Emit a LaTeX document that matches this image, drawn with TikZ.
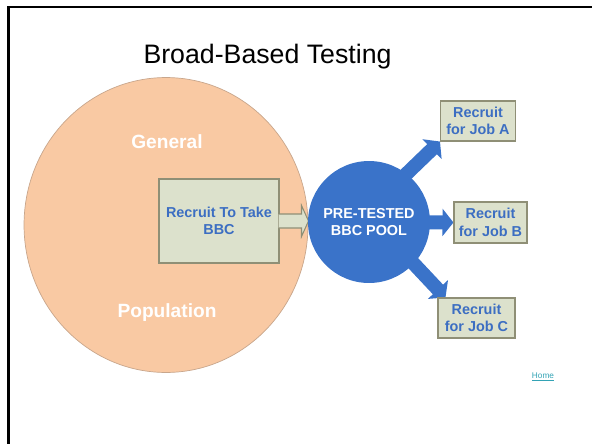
\documentclass[tikz,border=0pt]{standalone}
\usepackage{fontspec}
\setmainfont{Liberation Sans}
\usetikzlibrary{shapes.geometric,arrows.meta,calc,backgrounds}
\definecolor{peach}{HTML}{F9C9A3}
\definecolor{peachline}{HTML}{C8A68C}
\definecolor{boxfill}{HTML}{DCE1CC}
\definecolor{boxline}{HTML}{8F8F76}
\definecolor{poolblue}{HTML}{3A73C9}
\definecolor{textblue}{HTML}{3C6EC2}
\definecolor{homelink}{HTML}{33A3B5}

\begin{document}
\begin{tikzpicture}[x=0.02cm,y=-0.02cm,
  jobbox/.style={draw=boxline,fill=boxfill,line width=0.6pt,minimum width=1.5cm,minimum height=0.8cm,inner sep=0pt,align=center,text=textblue,font=\fontsize{8.2}{9.9}\selectfont\bfseries},
  poolarrow/.style={draw=poolblue,line width=0.28cm,-{Triangle[width=0.54cm,length=0.22cm]}},
  bigword/.style={anchor=base,text=white,font=\fontsize{10.9}{13}\selectfont\bfseries}]
\useasboundingbox (0,0) rectangle (592,444);
\draw[line width=1.36pt] (592,7) -- (8.5,7) -- (8.5,444);
\node[anchor=base,font=\fontsize{15.2}{18}\selectfont] (title) at (267.5,63) {Broad-Based Testing};
\node[ellipse,draw=peachline,fill=peach,line width=0.4pt,minimum width=5.68cm,minimum height=5.9cm] (gen) at (166,225) {};
\node[bigword] (general) at (167,148) {General};
\node[bigword] (popul) at (167,317) {Population};
\node[jobbox,minimum width=2.4cm,minimum height=1.68cm] (recruit) at (219,221) {Recruit To Take\\BBC};
\filldraw[draw=boxline,fill=boxfill,line width=0.6pt] ($(recruit.east)+(-0.8,-7)$) -- ++(22.8,0) -- ++(0,-8.5) -- ++(7,15.5) -- ++(-7,15.5) -- ++(0,-8.5) -- ++(-22.8,0);
\node[circle,fill=poolblue,minimum size=2.44cm,inner sep=0pt,align=center,text=white,font=\fontsize{8.2}{9.7}\selectfont\bfseries] (pool) at (369,222) {PRE-TESTED\\BBC POOL};
\node[jobbox] (jobA) at (478,121) {Recruit\\for Job A};
\node[jobbox,minimum width=1.46cm,minimum height=0.82cm] (jobB) at (490.5,222.5) {Recruit\\for Job B};
\node[jobbox,minimum width=1.54cm] (jobC) at (476.5,318) {Recruit\\for Job C};
\begin{scope}[on background layer]
\draw[poolarrow] ($(pool.center)+(0,-12)$) -- (jobA.south west);
\draw[poolarrow] (pool.center) -- (jobB.west);
\draw[poolarrow] ($(pool.center)+(0,-6)$) -- ($(jobC.north west)+(8,0)$);
\end{scope}
\node[anchor=base,text=homelink,font=\fontsize{4.7}{5}\selectfont] (home) at (543,378) {\underline{Home}};
\end{tikzpicture}
\end{document}
